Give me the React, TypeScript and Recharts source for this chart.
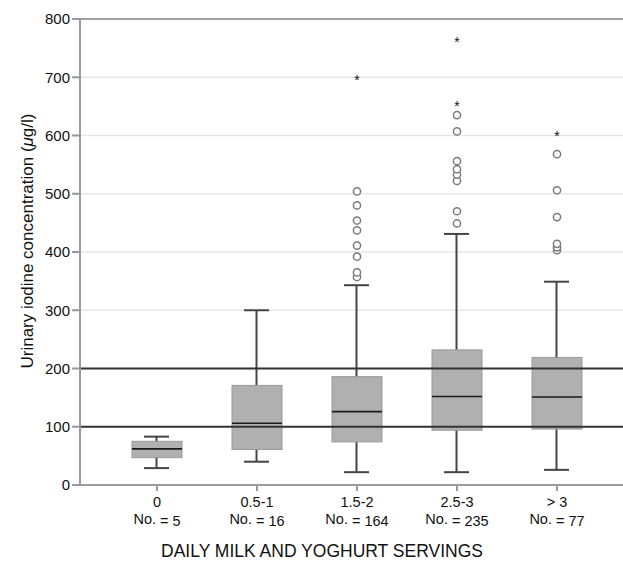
import { ComposedChart, Bar, Scatter, XAxis, YAxis, CartesianGrid, ReferenceLine } from 'recharts';

const groups = ['0', '0.5-1', '1.5-2', '2.5-3', '> 3'];
const counts = [5, 16, 164, 235, 77];
const mins = [29, 40, 22, 22, 26];
const q1s = [47, 61, 74, 94, 96];
const medians = [62, 106, 126, 152, 151];
const q3s = [75, 171, 186, 232, 219];
const maxs = [83, 300, 343, 431, 349];

// outliers (circles) and extremes (stars) per group index
const outliers2 = [357, 365, 392, 411, 437, 454, 480, 504];
const outliers3 = [449, 470, 522, 533, 542, 556, 607, 635];
const outliers4 = [403, 408, 414, 460, 506, 568];
const extremes2 = [700];
const extremes3 = [656, 765];
const extremes4 = [605];

const yTicks = [0, 100, 200, 300, 400, 500, 600, 700, 800];

const FONT = '"Liberation Sans", Arial, Helvetica, sans-serif';

const boxData = groups.map((g, i) => ({
  x: i,
  whisker: [mins[i], maxs[i]],
  box: [q1s[i], q3s[i]],
  median: medians[i],
}));

const outlierData = [
  ...outliers2.map((v) => ({ x: 2, y: v })),
  ...outliers3.map((v) => ({ x: 3, y: v })),
  ...outliers4.map((v) => ({ x: 4, y: v })),
];
const extremeData = [
  ...extremes2.map((v) => ({ x: 2, y: v })),
  ...extremes3.map((v) => ({ x: 3, y: v })),
  ...extremes4.map((v) => ({ x: 4, y: v })),
];
const medianData = medians.map((v, i) => ({ x: i, y: v }));

const WhiskerShape = (props: any) => {
  const { x, y, width, height } = props;
  const top = Math.min(y, y + height);
  const bottom = Math.max(y, y + height);
  const cx = x + width / 2;
  return (
    <g stroke="#444" strokeWidth={2}>
      <line x1={cx} x2={cx} y1={top} y2={bottom} />
      <line x1={x} x2={x + width} y1={top} y2={top} />
      <line x1={x} x2={x + width} y1={bottom} y2={bottom} />
    </g>
  );
};

const BoxShape = (props: any) => {
  const { x, y, width, height } = props;
  const top = Math.min(y, y + height);
  return <rect x={x} y={top} width={width} height={Math.abs(height)} fill="#b0b0b0" stroke="#999" strokeWidth={1} />;
};

const MedianShape = (props: any) => {
  const { cx, cy } = props;
  return <line x1={cx - 25} x2={cx + 25} y1={cy} y2={cy} stroke="#1a1a1a" strokeWidth={1.6} />;
};

const OutlierShape = (props: any) => {
  const { cx, cy } = props;
  return <circle cx={cx} cy={cy} r={3.6} fill="#fff" stroke="#7a7a7a" strokeWidth={1.5} />;
};

const ExtremeShape = (props: any) => {
  const { cx, cy } = props;
  return (
    <text x={cx} y={cy + 8} textAnchor="middle" fontSize={14} fontFamily={FONT} fill="#111">
      *
    </text>
  );
};

const XTick = (props: any) => {
  const { x, y, payload } = props;
  const i = payload.value;
  return (
    <g fontFamily={FONT} fontSize={14.5} fill="#111">
      <text x={x} y={y + 14} textAnchor="middle">{groups[i]}</text>
      <text x={x} y={y + 31} textAnchor="middle">
        <tspan>No.</tspan>
        <tspan dy={2}>{' = ' + counts[i]}</tspan>
      </text>
    </g>
  );
};

export default function App() {
  return (
    <div style={{ position: 'absolute', left: 0, top: 0, width: 623, height: 562, background: '#fff' }}>
      <ComposedChart width={623} height={562} data={boxData} margin={{ top: 19, right: 0, bottom: 0, left: 0 }}>
        <CartesianGrid vertical={false} stroke="#e6e6e6" strokeWidth={1.5} />
        <XAxis
          xAxisId="main"
          dataKey="x"
          type="number"
          domain={[-0.77, 4.66]}
          ticks={[0, 1, 2, 3, 4]}
          allowDataOverflow
          height={77}
          tick={<XTick />}
          tickSize={6}
          tickLine={{ stroke: '#999', strokeWidth: 2 }}
          axisLine={{ stroke: '#9c9c9c', strokeWidth: 2 }}
          label={{
            content: () => (
              <text x={322} y={557} textAnchor="middle" fontSize={17.5} fontFamily={FONT} fill="#111">
                DAILY MILK AND YOGHURT SERVINGS
              </text>
            ),
          }}
        />
        <XAxis xAxisId="w" dataKey="x" type="number" domain={[-0.77, 4.66]} allowDataOverflow hide />
        <YAxis
          domain={[0, 800]}
          ticks={yTicks}
          width={80}
          tickSize={8}
          tickMargin={2}
          tick={{ fontSize: 15, fill: '#111', fontFamily: FONT }}
          tickLine={{ stroke: '#999', strokeWidth: 2 }}
          axisLine={{ stroke: '#9c9c9c', strokeWidth: 2 }}
          label={{
            content: () => (
              <text
                x={33}
                y={241}
                transform="rotate(-90 33 241)"
                textAnchor="middle"
                fontSize={17}
                fontFamily={FONT}
                fill="#111"
              >
                Urinary iodine concentration (<tspan fontStyle="italic">μ</tspan>g/l)
              </text>
            ),
          }}
        />
        <ReferenceLine xAxisId="main" y={800} stroke="#a0a0a0" strokeWidth={2} />
        <Bar xAxisId="w" dataKey="whisker" barSize={25} shape={<WhiskerShape />} isAnimationActive={false} />
        <Bar xAxisId="main" dataKey="box" barSize={50} shape={<BoxShape />} isAnimationActive={false} />
        <ReferenceLine xAxisId="main" y={100} stroke="#333" strokeWidth={2} />
        <ReferenceLine xAxisId="main" y={200} stroke="#333" strokeWidth={2} />
        <Scatter xAxisId="main" data={medianData} dataKey="y" shape={<MedianShape />} isAnimationActive={false} />
        <Scatter xAxisId="main" data={outlierData} dataKey="y" shape={<OutlierShape />} isAnimationActive={false} />
        <Scatter xAxisId="main" data={extremeData} dataKey="y" shape={<ExtremeShape />} isAnimationActive={false} />
      </ComposedChart>
    </div>
  );
}
